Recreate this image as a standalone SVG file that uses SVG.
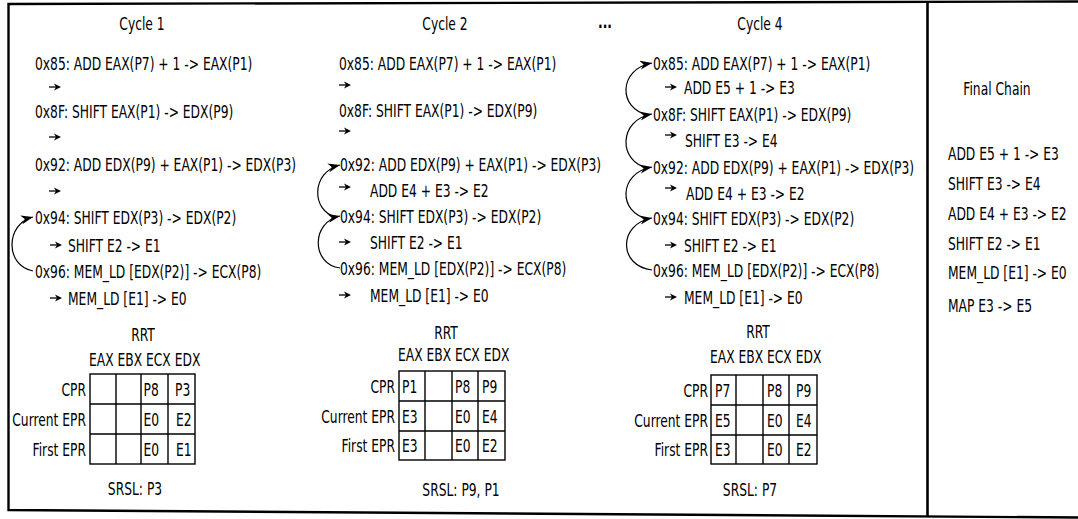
<svg xmlns="http://www.w3.org/2000/svg" xmlns:xlink="http://www.w3.org/1999/xlink" width="1078" height="519" viewBox="0 0 1078 519">
<style>
.t{font-family:"DejaVu Sans Condensed","DejaVu Sans",sans-serif;font-size:18px;fill:#000}
.m{text-anchor:middle}
.e{text-anchor:end}
.b{font-weight:bold}
.cv{fill:none;stroke:#000;stroke-width:1.2;marker-end:url(#ah)}
.frame{fill:none;stroke:#000;stroke-width:2.4}
.grid{fill:none;stroke:#000;stroke-width:1.4}
</style>
<defs>
<marker id="ah" markerUnits="userSpaceOnUse" markerWidth="14" markerHeight="10" refX="12" refY="4.5" orient="auto"><path d="M0,0 L12,4.5 L0,9 L3.5,4.5 Z" fill="#000"/></marker>
<g id="sa"><path d="M0,0 H8" stroke="#000" stroke-width="1.3"/><path d="M5,-3.5 L12,0 L5,3.5 L7,0 Z" fill="#000"/></g>
</defs>
<rect width="1078" height="519" fill="#fff"/>
<path class="frame" d="M1078,1.5 L8.5,4 L8.5,510 L1078,517.5"/>
<path d="M927.5,2 V517" stroke="#000" stroke-width="2.6"/>

<g id="cycle1">
<text class="t m" transform="translate(142,30) scale(.76,1)">Cycle 1</text>
<g id="c1-i85"><text class="t" transform="translate(35,70) scale(.76,1)">0x85: ADD EAX(P7) + 1 -&gt; EAX(P1)</text><use xlink:href="#sa" x="49" y="87"/></g>
<g id="c1-i8f"><text class="t" transform="translate(35,118) scale(.76,1)">0x8F: SHIFT EAX(P1) -&gt; EDX(P9)</text><use xlink:href="#sa" x="49" y="137"/></g>
<g id="c1-i92"><text class="t" transform="translate(35,171) scale(.76,1)">0x92: ADD EDX(P9) + EAX(P1) -&gt; EDX(P3)</text><use xlink:href="#sa" x="49" y="191"/></g>
<g id="c1-i94"><text class="t" transform="translate(35,224) scale(.76,1)">0x94: SHIFT EDX(P3) -&gt; EDX(P2)</text><use xlink:href="#sa" x="50" y="245"/><text class="t" transform="translate(68,252) scale(.76,1)">SHIFT E2 -&gt; E1</text></g>
<g id="c1-i96"><text class="t" transform="translate(35,278) scale(.76,1)">0x96: MEM_LD [EDX(P2)] -&gt; ECX(P8)</text><use xlink:href="#sa" x="50" y="298"/><text class="t" transform="translate(68,305) scale(.76,1)">MEM_LD [E1] -&gt; E0</text></g>
<g id="c1-rrt">
<text class="t m" transform="translate(143,341) scale(.76,1)">RRT</text>
<text class="t" transform="translate(89,366) scale(.76,1)">EAX EBX ECX EDX</text>
<rect class="grid" x="90" y="374" width="105" height="90"/>
<path class="grid" d="M90,404 H195 M90,434 H195 M116,374 V464 M141,374 V464 M168,374 V464"/>
<text class="t e" transform="translate(86,396) scale(.76,1)">CPR</text>
<text class="t e" transform="translate(86,426) scale(.76,1)">Current EPR</text>
<text class="t e" transform="translate(86,456) scale(.76,1)">First EPR</text>
<text class="t" transform="translate(143.5,396) scale(.76,1)">P8</text>
<text class="t" transform="translate(175,396) scale(.76,1)">P3</text>
<text class="t" transform="translate(143.5,426) scale(.76,1)">E0</text>
<text class="t" transform="translate(176,426) scale(.76,1)">E2</text>
<text class="t" transform="translate(143.5,456) scale(.76,1)">E0</text>
<text class="t" transform="translate(176,456) scale(.76,1)">E1</text>
<text class="t m" transform="translate(135,495) scale(.76,1)">SRSL: P3</text>
</g>
</g>

<g id="cycle2">
<text class="t m" transform="translate(445,30) scale(.76,1)">Cycle 2</text>
<text class="t b" transform="translate(598,28) scale(.76,1)">...</text>
<g id="c2-i85"><text class="t" transform="translate(339,70) scale(.76,1)">0x85: ADD EAX(P7) + 1 -&gt; EAX(P1)</text><use xlink:href="#sa" x="339" y="85"/></g>
<g id="c2-i8f"><text class="t" transform="translate(339,117) scale(.76,1)">0x8F: SHIFT EAX(P1) -&gt; EDX(P9)</text><use xlink:href="#sa" x="339" y="131"/></g>
<g id="c2-i92"><text class="t" transform="translate(340,171) scale(.76,1)">0x92: ADD EDX(P9) + EAX(P1) -&gt; EDX(P3)</text><use xlink:href="#sa" x="339" y="187"/><text class="t" transform="translate(370,197) scale(.76,1)">ADD E4 + E3 -&gt; E2</text></g>
<g id="c2-i94"><text class="t" transform="translate(340,223) scale(.76,1)">0x94: SHIFT EDX(P3) -&gt; EDX(P2)</text><use xlink:href="#sa" x="339" y="242"/><text class="t" transform="translate(370,249) scale(.76,1)">SHIFT E2 -&gt; E1</text></g>
<g id="c2-i96"><text class="t" transform="translate(340,275) scale(.76,1)">0x96: MEM_LD [EDX(P2)] -&gt; ECX(P8)</text><use xlink:href="#sa" x="339" y="295"/><text class="t" transform="translate(370,302) scale(.76,1)">MEM_LD [E1] -&gt; E0</text></g>
<g id="c2-rrt">
<text class="t m" transform="translate(446,339) scale(.76,1)">RRT</text>
<text class="t" transform="translate(398,361) scale(.76,1)">EAX EBX ECX EDX</text>
<rect class="grid" x="399" y="371" width="106" height="89"/>
<path class="grid" d="M399,401 H505 M399,431 H505 M425,371 V460 M452,371 V460 M478,371 V460"/>
<text class="t e" transform="translate(395,393) scale(.76,1)">CPR</text>
<text class="t e" transform="translate(395,423) scale(.76,1)">Current EPR</text>
<text class="t e" transform="translate(395,452) scale(.76,1)">First EPR</text>
<text class="t" transform="translate(402,393) scale(.76,1)">P1</text>
<text class="t" transform="translate(455,393) scale(.76,1)">P8</text>
<text class="t" transform="translate(482,393) scale(.76,1)">P9</text>
<text class="t" transform="translate(402,423) scale(.76,1)">E3</text>
<text class="t" transform="translate(455,423) scale(.76,1)">E0</text>
<text class="t" transform="translate(482,423) scale(.76,1)">E4</text>
<text class="t" transform="translate(402,452) scale(.76,1)">E3</text>
<text class="t" transform="translate(455,452) scale(.76,1)">E0</text>
<text class="t" transform="translate(482,452) scale(.76,1)">E2</text>
<text class="t m" transform="translate(461,496) scale(.76,1)">SRSL: P9, P1</text>
</g>
</g>

<g id="cycle4">
<text class="t m" transform="translate(760,30) scale(.76,1)">Cycle 4</text>
<g id="c4-i85"><text class="t" transform="translate(653,70) scale(.76,1)">0x85: ADD EAX(P7) + 1 -&gt; EAX(P1)</text><use xlink:href="#sa" x="665" y="87"/><text class="t" transform="translate(684,94) scale(.76,1)">ADD E5 + 1 -&gt; E3</text></g>
<g id="c4-i8f"><text class="t" transform="translate(653,121) scale(.76,1)">0x8F: SHIFT EAX(P1) -&gt; EDX(P9)</text><use xlink:href="#sa" x="665" y="135"/><text class="t" transform="translate(685,147) scale(.76,1)">SHIFT E3 -&gt; E4</text></g>
<g id="c4-i92"><text class="t" transform="translate(653,174) scale(.76,1)">0x92: ADD EDX(P9) + EAX(P1) -&gt; EDX(P3)</text><use xlink:href="#sa" x="665" y="188"/><text class="t" transform="translate(686,200) scale(.76,1)">ADD E4 + E3 -&gt; E2</text></g>
<g id="c4-i94"><text class="t" transform="translate(653,225) scale(.76,1)">0x94: SHIFT EDX(P3) -&gt; EDX(P2)</text><use xlink:href="#sa" x="665" y="245"/><text class="t" transform="translate(684,252) scale(.76,1)">SHIFT E2 -&gt; E1</text></g>
<g id="c4-i96"><text class="t" transform="translate(653,277) scale(.76,1)">0x96: MEM_LD [EDX(P2)] -&gt; ECX(P8)</text><use xlink:href="#sa" x="665" y="297"/><text class="t" transform="translate(684,304) scale(.76,1)">MEM_LD [E1] -&gt; E0</text></g>
<g id="c4-rrt">
<text class="t m" transform="translate(758,338) scale(.76,1)">RRT</text>
<text class="t" transform="translate(710,363) scale(.76,1)">EAX EBX ECX EDX</text>
<rect class="grid" x="711" y="375" width="106" height="89"/>
<path class="grid" d="M711,405 H817 M711,435 H817 M736,375 V464 M763,375 V464 M789,375 V464"/>
<text class="t e" transform="translate(708,397) scale(.76,1)">CPR</text>
<text class="t e" transform="translate(708,427) scale(.76,1)">Current EPR</text>
<text class="t e" transform="translate(708,456) scale(.76,1)">First EPR</text>
<text class="t" transform="translate(715,397) scale(.76,1)">P7</text>
<text class="t" transform="translate(767,397) scale(.76,1)">P8</text>
<text class="t" transform="translate(796,397) scale(.76,1)">P9</text>
<text class="t" transform="translate(715,427) scale(.76,1)">E5</text>
<text class="t" transform="translate(767,427) scale(.76,1)">E0</text>
<text class="t" transform="translate(796,427) scale(.76,1)">E4</text>
<text class="t" transform="translate(715,456) scale(.76,1)">E3</text>
<text class="t" transform="translate(767,456) scale(.76,1)">E0</text>
<text class="t" transform="translate(796,456) scale(.76,1)">E2</text>
<text class="t m" transform="translate(750,496) scale(.76,1)">SRSL: P7</text>
</g>
</g>

<g id="final-chain">
<text class="t m" transform="translate(997,95) scale(.76,1)">Final Chain</text>
<text class="t" transform="translate(948,160) scale(.76,1)">ADD E5 + 1 -&gt; E3</text>
<text class="t" transform="translate(948,190) scale(.76,1)">SHIFT E3 -&gt; E4</text>
<text class="t" transform="translate(948,220) scale(.76,1)">ADD E4 + E3 -&gt; E2</text>
<text class="t" transform="translate(948,250) scale(.76,1)">SHIFT E2 -&gt; E1</text>
<text class="t" transform="translate(948,279) scale(.76,1)">MEM_LD [E1] -&gt; E0</text>
<text class="t" transform="translate(948,312) scale(.76,1)">MAP E3 -&gt; E5</text>
</g>

<g id="connectors">
<path class="cv" d="M33,271 C5,266 5,224 33,217"/>
<path class="cv" d="M340,268 C311,264 311,222 340,216"/>
<path class="cv" d="M336,217 C311,211 311,172 340,165"/>
<path class="cv" d="M652,270 C618,266 618,224 652,218"/>
<path class="cv" d="M648,219 C618,213 618,173 652,167"/>
<path class="cv" d="M648,168 C618,162 618,120 652,114"/>
<path class="cv" d="M648,115 C618,109 618,69 652,63"/>
</g>
</svg>
